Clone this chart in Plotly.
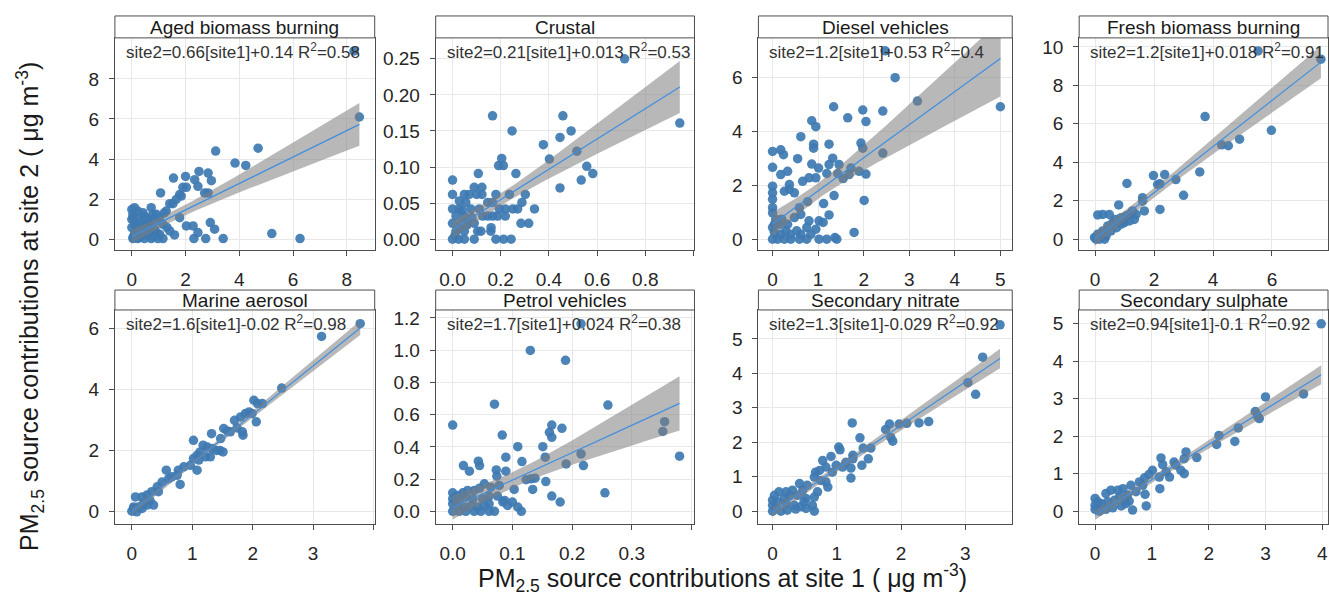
import numpy as np
import plotly.graph_objects as go

W, H = 1329, 600
FONT = "Liberation Sans, Arial, sans-serif"

# ---------------- data (site1, site2) ----------------
panel_titles = ["Aged biomass burning", "Crustal", "Diesel vehicles", "Fresh biomass burning",
                "Marine aerosol", "Petrol vehicles", "Secondary nitrate", "Secondary sulphate"]

equations = ["site2=0.66[site1]+0.14 R<sup>2</sup>=0.58",
             "site2=0.21[site1]+0.013 R<sup>2</sup>=0.53",
             "site2=1.2[site1]+0.53 R<sup>2</sup>=0.4",
             "site2=1.2[site1]+0.018 R<sup>2</sup>=0.91",
             "site2=1.6[site1]-0.02 R<sup>2</sup>=0.98",
             "site2=1.7[site1]+0.024 R<sup>2</sup>=0.38",
             "site2=1.3[site1]-0.029 R<sup>2</sup>=0.92",
             "site2=0.94[site1]-0.1 R<sup>2</sup>=0.92"]

fit_slope = [0.66, 0.21, 1.23, 1.2, 1.6, 1.7, 1.26, 0.94]
fit_intercept = [0.14, 0.013, 0.56, 0.018, -0.02, 0.024, -0.029, -0.1]

aged = [(8.47, 6.1), (8.27, 9.4), (3.12, 4.4), (4.70, 4.54), (3.84, 3.8), (4.24, 3.68), (1.55, 3.05),
        (2.0, 3.13), (2.5, 3.38), (2.84, 3.3), (2.34, 2.97), (2.96, 2.92), (2.46, 2.64), (2.71, 2.31),
        (2.84, 2.31), (1.78, 2.23), (1.90, 2.59), (2.03, 2.59), (1.07, 2.31), (1.84, 2.15), (1.65, 1.98),
        (1.53, 1.77), (1.41, 1.77), (1.28, 1.40), (0.72, 1.57), (1.78, 1.07), (0.91, 1.24), (2.92, 0.83),
        (3.08, 0.5), (2.03, 0.66), (2.28, 0.66), (2.46, 0.33), (1.59, 0.21), (2.31, 0.03), (2.75, 0.03),
        (3.40, 0.03), (5.21, 0.28), (6.26, 0.03),
        (0, 1.48), (0.04, 1.07), (0.22, 1.4), (0.41, 1.32), (0.53, 1.07), (0.1, 0.74), (0.29, 0.58),
        (0.66, 0.74), (0.85, 0.5), (1.03, 0.25), (1.16, 0.03), (0.97, 0.03), (0.72, 0.03), (0.47, 0.03),
        (0.22, 0.03), (0.04, 0.03), (0.1, 0.25), (0.35, 0.25), (0.53, 0.41), (0.16, 0.41), (0, 0.58),
        (0.41, 0.74), (0.6, 0.91), (0.22, 0.99), (0.47, 1.15), (0.72, 0.99), (0.78, 1.24), (1.03, 1.07),
        (1.16, 0.74), (1.31, 0.58), (1.41, 0.41), (0.91, 0.33), (0.04, 1.24), (0, 0.99), (0.1, 1.57),
        (0.05, 0.1), (0.15, 0.15), (0.3, 0.1), (0.6, 0.2), (0.8, 0.15), (0.2, 0.7), (0.5, 0.6),
        (0.7, 0.5), (0.35, 0.9), (0.9, 0.9), (1.2, 1.3)]

crustal = [(0.714, 0.25), (0.943, 0.161), (0.166, 0.171), (0.458, 0.171), (0.247, 0.15), (0.492, 0.15),
           (0.446, 0.141), (0.377, 0.131), (0.402, 0.111), (0.516, 0.122), (0.557, 0.101), (0.582, 0.091),
           (0.534, 0.082), (0.446, 0.071), (0.204, 0.112), (0.191, 0.102), (0.211, 0.102), (0.263, 0.091),
           (0.107, 0.091), (0.0, 0.082), (0.0, 0.062), (0.09, 0.072), (0.122, 0.072), (0.1, 0.062),
           (0.122, 0.062), (0.049, 0.062), (0.069, 0.062), (0.18, 0.062), (0.236, 0.062), (0.302, 0.062),
           (0.288, 0.051), (0.055, 0.051), (0.146, 0.051), (0.166, 0.051), (0.0, 0.042), (0.028, 0.042),
           (0.076, 0.042), (0.111, 0.042), (0.194, 0.042), (0.219, 0.042), (0.25, 0.042), (0.27, 0.042),
           (0.34, 0.042), (0.125, 0.032), (0.146, 0.032), (0.166, 0.032), (0.187, 0.032), (0.219, 0.032),
           (0.014, 0.032), (0.049, 0.032), (0.284, 0.022), (0.316, 0.022), (0.0, 0.022), (0.035, 0.022),
           (0.062, 0.022), (0.09, 0.022), (0.104, 0.011), (0.118, 0.011), (0.159, 0.011), (0.014, 0.011),
           (0.049, 0.011), (0.0, 0.0), (0.025, 0.0), (0.049, 0.0), (0.09, 0.0), (0.18, 0.0), (0.212, 0.0),
           (0.243, 0.0), (0.16, 0.016), (0.028, 0.053), (0.01, 0.005), (0.03, 0.015), (0.06, 0.02),
           (0.08, 0.03), (0.04, 0.04)]

diesel = [(2.69, 6.0), (3.18, 5.13), (5.0, 4.92), (2.47, 7.0), (1.34, 4.92), (1.98, 4.80), (2.42, 4.76),
          (1.65, 4.51), (2.05, 4.37), (0.86, 4.4), (0.95, 4.18), (0.62, 3.81), (0.9, 3.53), (0.9, 3.38),
          (1.24, 3.53), (1.94, 3.57), (1.98, 3.38), (0, 3.26), (0.18, 3.32), (0.24, 3.14), (1.32, 3.01),
          (0.55, 2.99), (2.42, 3.2), (0, 2.67), (0.33, 2.52), (0.18, 2.4), (0.86, 2.79), (1.01, 2.64),
          (1.24, 2.77), (1.46, 2.77), (1.19, 2.44), (1.43, 2.44), (1.55, 2.25), (1.68, 2.4), (1.9, 2.52),
          (2.05, 2.42), (1.72, 2.64), (0.8, 2.28), (0.95, 2.28), (0.66, 2.15), (0.37, 2.03), (0.37, 1.85),
          (0.48, 1.72), (0.26, 1.78), (0, 1.97), (0, 1.72), (0, 1.48), (0, 1.17), (0, 0.98), (2.01, 1.44),
          (1.35, 1.62), (1.12, 1.32), (0.77, 1.39), (0.59, 1.17), (1.24, 0.9), (1.02, 0.68), (1.11, 0.62),
          (0.8, 0.68), (0.62, 0.92), (0.48, 0.8), (0.33, 0.55), (0.2, 0.74), (0.75, 0.43), (0.95, 0.37),
          (0.53, 0.31), (1.79, 0.25), (1.02, 0), (1.19, 0), (1.37, 0.06), (1.41, 0), (0.75, 0), (0.59, 0),
          (0.4, 0), (0.26, 0), (0.11, 0), (0, 0), (0.04, 0.25), (0.18, 0.18), (0.29, 0.31), (0, 0.43),
          (0.15, 0.55), (0.62, 0.18), (0.84, 0.18), (0.4, 0.18), (0.07, 0.74), (0.04, 0.55)]

fresh = [(7.66, 9.36), (5.53, 9.79), (3.73, 6.38), (5.98, 5.66), (4.9, 5.2), (4.29, 4.91), (4.52, 4.86),
         (3.55, 3.5), (2.36, 3.36), (1.98, 3.31), (2.74, 3.1), (2.2, 2.88), (2.12, 2.84), (1.08, 2.9),
         (3.0, 2.28), (2.2, 1.55), (1.67, 1.47), (1.61, 2.16), (1.61, 1.98), (0.8, 1.78), (1.27, 1.47),
         (1.16, 1.29), (1.39, 1.29), (1.05, 1.21), (0.88, 1.12), (0.69, 1.03), (0.48, 1.29), (0.26, 1.29),
         (0.09, 1.26), (0.6, 0.86), (0.43, 0.69), (0.73, 0.6), (0.54, 0.43), (0.26, 0.43), (0.09, 0.26),
         (-0.02, 0.09), (0.15, 0), (0.32, 0), (0.03, 0), (0.99, 0.86), (1.16, 0.95), (1.33, 1.03),
         (0.88, 0.78), (0.37, 0.17), (0.2, 0.29)]

marine = [(3.78, 6.17), (3.14, 5.75), (2.48, 4.05), (2.02, 3.65), (2.08, 3.54), (2.16, 3.54), (1.94, 3.26),
          (1.99, 3.21), (1.88, 3.21), (1.80, 3.10), (2.06, 2.94), (1.70, 2.99), (1.74, 2.74), (1.63, 2.61),
          (1.83, 2.61), (1.84, 2.5), (1.52, 2.72), (1.58, 2.64), (1.32, 2.55), (1.47, 2.39), (1.46, 2.0),
          (1.51, 1.95), (1.4, 2.0), (1.33, 2.06), (1.02, 2.33), (1.18, 2.17), (1.25, 2.11), (1.13, 1.95),
          (1.08, 1.84), (1.22, 1.79), (1.3, 1.79), (1.02, 1.73), (1.11, 1.68), (1.08, 1.35), (0.97, 1.51),
          (0.86, 1.46), (0.77, 1.35), (0.8, 0.88), (0.75, 1.18), (0.66, 1.13), (0.57, 1.35), (0.61, 1.07),
          (0.5, 0.96), (0.42, 0.8), (0.44, 0.64), (0.33, 0.64), (0.25, 0.53), (0.17, 0.47), (0.06, 0.47),
          (0.3, 0.36), (0.36, 0.2), (0.19, 0.25), (0.25, 0.2), (0.11, 0.14), (0.03, 0.09), (0, 0),
          (0.08, -0.02), (0.03, 0.14), (0.17, 0.09)]

petrol = [(0.215, 1.163), (0.130, 0.998), (0.189, 0.937), (0.070, 0.665), (0.260, 0.659), (0.0, 0.535),
          (0.166, 0.535), (0.162, 0.490), (0.166, 0.459), (0.183, 0.515), (0.083, 0.473), (0.355, 0.556),
          (0.352, 0.496), (0.38, 0.342), (0.109, 0.401), (0.151, 0.401), (0.155, 0.336), (0.089, 0.336),
          (0.043, 0.311), (0.045, 0.284), (0.018, 0.284), (0.116, 0.309), (0.19, 0.294), (0.215, 0.356),
          (0.219, 0.284), (0.028, 0.249), (0.073, 0.257), (0.089, 0.249), (0.074, 0.218), (0.123, 0.196),
          (0.131, 0.202), (0.138, 0.206), (0.156, 0.185), (0.134, 0.136), (0.103, 0.136), (0.255, 0.115),
          (0.166, 0.095), (0.180, 0.058), (0.053, 0.171), (0.064, 0.150), (0.078, 0.161), (0.045, 0.144),
          (0.036, 0.13), (0.025, 0.13), (0.017, 0.115), (0.0, 0.115), (0.008, 0.099), (0.0, 0.078),
          (0.022, 0.089), (0.034, 0.078), (0.05, 0.078), (0.061, 0.095), (0.075, 0.095), (0.084, 0.058),
          (0.092, 0.037), (0.1, 0.058), (0.109, 0.027), (0.115, 0.0), (0.087, 0.068), (0.07, 0.0),
          (0.061, 0.0), (0.047, 0.0), (0.036, 0.0), (0.022, 0.0), (0.011, 0.0), (0.0, 0.0), (0.008, 0.037),
          (0.02, 0.027), (0.031, 0.037), (0.042, 0.027), (0.053, 0.037), (0.061, 0.047), (0.0, 0.047),
          (0.011, 0.068)]

nitrate = [(3.54, 5.41), (3.27, 4.47), (3.04, 3.73), (3.16, 3.39), (2.43, 2.6), (2.28, 2.56), (2.09, 2.55),
           (1.97, 2.53), (1.82, 2.53), (1.76, 2.37), (1.84, 2.14), (1.87, 2.03), (1.24, 2.56), (1.36, 2.13),
           (1.49, 1.52), (1.53, 1.83), (1.41, 1.83), (1.39, 1.33), (1.22, 1.25), (1.22, 0.96), (1.03, 1.86),
           (1.05, 1.78), (0.91, 1.59), (0.78, 1.47), (0.83, 1.28), (1.25, 1.62), (1.14, 1.42), (1.25, 1.52),
           (0.99, 1.33), (0.73, 1.18), (0.67, 1.13), (0.65, 0.99), (0.86, 0.7), (0.83, 0.85), (0.75, 0.89),
           (0.7, 0.56), (0.65, 0.41), (0.62, 0.17), (0.65, 0.0), (0.54, 0.75), (0.42, 0.8), (0.47, 0.61),
           (0.39, 0.46), (0.52, 0.37), (0.31, 0.61), (0.26, 0.46), (0.18, 0.37), (0.21, 0.56), (0.1, 0.56),
           (0.03, 0.46), (0.0, 0.32), (0.08, 0.27), (0.21, 0.22), (0.34, 0.17), (0.44, 0.13), (0.49, 0.27),
           (0.0, 0.17), (0.05, 0.08), (0.0, 0.0), (0.13, 0.0), (0.23, 0.03), (0.36, 0.06), (0.52, 0.08),
           (0.93, 1.13), (1.09, 1.28)]

sulphate = [(3.98, 5.0), (3.0, 3.05), (3.67, 3.13), (2.82, 2.66), (2.86, 2.53), (2.89, 2.47), (2.52, 2.22),
            (2.18, 2.02), (2.14, 1.78), (2.46, 1.86), (1.79, 1.43), (1.6, 1.58), (1.57, 1.4), (1.39, 1.31),
            (1.42, 1.23), (1.51, 1.09), (1.57, 1.0), (1.16, 1.42), (1.19, 1.24), (1.25, 1.05), (1.31, 0.91),
            (1.13, 0.91), (1.14, 0.6), (1.01, 1.09), (0.95, 0.98), (0.87, 0.89), (0.78, 0.78), (0.84, 0.69),
            (0.88, 0.45), (0.9, 0.14), (0.66, 0.03), (0.63, 0.69), (0.72, 0.52), (0.57, 0.43), (0.49, 0.6),
            (0.4, 0.56), (0.28, 0.56), (0.19, 0.47), (0.43, 0.38), (0.34, 0.29), (0.22, 0.25), (0.11, 0.2),
            (0.0, 0.34), (0.05, 0.25), (0.0, 0.16), (0.0, 0.05), (0.08, 0.0), (0.19, 0.05), (0.31, 0.09),
            (0.46, 0.14), (0.54, 0.2), (0.6, 0.27), (0.52, 0.34)]

panel_points = [aged, crustal, diesel, fresh, marine, petrol, nitrate, sulphate]

x_ranges = [[-0.63, 9.04], [-0.07, 1.004], [-0.31, 5.26], [-0.54, 7.9],
            [-0.28, 4.02], [-0.0285, 0.405], [-0.22, 3.73], [-0.28, 4.1]]
y_ranges = [[-0.55, 10.05], [-0.0152, 0.279], [-0.41, 7.48], [-0.57, 10.47],
            [-0.43, 6.62], [-0.08, 1.249], [-0.38, 5.84], [-0.35, 5.37]]
x_ticks = [[0, 2, 4, 6, 8], [0, 0.2, 0.4, 0.6, 0.8, 1.0], [0, 1, 2, 3, 4, 5], [0, 2, 4, 6],
           [0, 1, 2, 3, 4], [0, 0.1, 0.2, 0.3, 0.4], [0, 1, 2, 3], [0, 1, 2, 3, 4]]
x_ticktext = [["0", "2", "4", "6", "8"], ["0.0", "0.2", "0.4", "0.6", "0.8", ""],
              ["0", "1", "2", "3", "4", "5"], ["0", "2", "4", "6"], ["0", "1", "2", "3", ""],
              ["0.0", "0.1", "0.2", "0.3", ""], ["0", "1", "2", "3"], ["0", "1", "2", "3", "4"]]
y_ticks = [[0, 2, 4, 6, 8], [0, 0.05, 0.10, 0.15, 0.20, 0.25], [0, 2, 4, 6], [0, 2, 4, 6, 8, 10],
           [0, 2, 4, 6], [0, 0.2, 0.4, 0.6, 0.8, 1.0, 1.2], [0, 1, 2, 3, 4, 5], [0, 1, 2, 3, 4, 5]]
y_ticktext = [["0", "2", "4", "6", "8"], ["0.00", "0.05", "0.10", "0.15", "0.20", "0.25"],
              ["0", "2", "4", "6"], ["0", "2", "4", "6", "8", "10"], ["0", "2", "4", "6"],
              ["0.0", "0.2", "0.4", "0.6", "0.8", "1.0", "1.2"], ["0", "1", "2", "3", "4", "5"],
              ["0", "1", "2", "3", "4", "5"]]

# ---------------- layout geometry (pixels) ----------------
col_px = [(115, 375), (436, 695), (759, 1013), (1080, 1329)]
row_plot_px = [(36, 249), (309, 524)]
row_strip_px = [(14, 36), (289, 309)]

POINT_COLOR = "rgba(62,122,178,0.92)"
LINE_COLOR = "#3f8fe0"
AX_COLOR = "#4d4d4d"


def px_x(p):
    return p / W


def px_y(p):
    return 1 - p / H


fig = go.Figure()
layout_axes = {}
annotations = []
shapes = []

for i in range(8):
    r, c = divmod(i, 4)
    k = i + 1
    xa = "x" if k == 1 else f"x{k}"
    ya = "y" if k == 1 else f"y{k}"
    pts = np.array(panel_points[i], dtype=float)
    xs, ys = pts[:, 0], pts[:, 1]

    fig.add_trace(go.Scatter(x=xs, y=ys, mode="markers", xaxis=xa, yaxis=ya,
                             marker=dict(size=9.5, color=POINT_COLOR, line=dict(width=0)),
                             showlegend=False, hoverinfo="skip"))

    # linear fit band (standard error of the mean prediction)
    b, a = fit_slope[i], fit_intercept[i]
    n = len(xs)
    res = ys - (a + b * xs)
    s = np.sqrt(np.sum(res ** 2) / (n - 2))
    xbar = xs.mean()
    sxx = np.sum((xs - xbar) ** 2)
    xg = np.linspace(xs.min(), xs.max(), 120)
    yg = a + b * xg
    se = s * np.sqrt(1.0 / n + (xg - xbar) ** 2 / sxx)
    lo, hi = yg - 1.97 * se, yg + 1.97 * se
    fig.add_trace(go.Scatter(x=np.concatenate([xg, xg[::-1]]), y=np.concatenate([lo, hi[::-1]]),
                             fill="toself", fillcolor="rgba(125,125,125,0.55)", line=dict(width=0),
                             mode="lines", xaxis=xa, yaxis=ya, showlegend=False, hoverinfo="skip"))
    fig.add_trace(go.Scatter(x=xg, y=yg, mode="lines", line=dict(color=LINE_COLOR, width=1.2),
                             xaxis=xa, yaxis=ya, showlegend=False, hoverinfo="skip"))

    x0, x1 = col_px[c]
    yt, yb = row_plot_px[r]
    common = dict(showline=True, linecolor=AX_COLOR, linewidth=1, mirror=True, ticks="outside",
                  ticklen=5, tickcolor=AX_COLOR, showgrid=True, gridcolor="#e8e8e8", gridwidth=1,
                  zeroline=False, fixedrange=True,
                  tickfont=dict(family=FONT, size=19, color="#262626"))
    layout_axes["xaxis" if k == 1 else f"xaxis{k}"] = dict(
        common, domain=[px_x(x0), px_x(x1)], anchor=ya, range=x_ranges[i],
        tickmode="array", tickvals=x_ticks[i], ticktext=x_ticktext[i], ticklabelstandoff=7)
    layout_axes["yaxis" if k == 1 else f"yaxis{k}"] = dict(
        common, domain=[px_y(yb), px_y(yt)], anchor=xa, range=y_ranges[i],
        tickmode="array", tickvals=y_ticks[i], ticktext=y_ticktext[i], ticklabelstandoff=6)

    # strip
    st, sb = row_strip_px[r]
    shapes.append(dict(type="rect", xref="paper", yref="paper", x0=px_x(x0), x1=px_x(x1),
                       y0=px_y(sb), y1=px_y(st), fillcolor="white",
                       line=dict(color=AX_COLOR, width=1), layer="above"))
    annotations.append(dict(text=panel_titles[i], xref="paper", yref="paper",
                            x=px_x((x0 + x1) / 2), y=px_y((st + sb) / 2 + 0.5), xanchor="center",
                            yanchor="middle", showarrow=False,
                            font=dict(family=FONT, size=19, color="#1a1a1a")))
    # equation
    annotations.append(dict(text=equations[i], xref="paper", yref="paper",
                            x=px_x(x0 + 9), y=px_y(yt + 13), xanchor="left", yanchor="middle",
                            showarrow=False, font=dict(family=FONT, size=17, color="#333333")))

annotations.append(dict(text="PM<sub>2.5</sub> source contributions at site 1 ( \u03bcg m<sup>-3</sup>)",
                        xref="paper", yref="paper", x=px_x(723), y=px_y(578), xanchor="center",
                        yanchor="middle", showarrow=False, font=dict(family=FONT, size=25, color="#1a1a1a")))
annotations.append(dict(text="PM<sub>2.5</sub> source contributions at site 2 ( \u03bcg m<sup>-3</sup>)",
                        xref="paper", yref="paper", x=px_x(30), y=px_y(305), xanchor="center",
                        yanchor="middle", textangle=-90, showarrow=False,
                        font=dict(family=FONT, size=25, color="#1a1a1a")))

fig.update_layout(width=W, height=H, autosize=False, margin=dict(l=0, r=0, t=0, b=0),
                  paper_bgcolor="white", plot_bgcolor="white", annotations=annotations,
                  shapes=shapes, **layout_axes)

fig.write_html("out.html")
